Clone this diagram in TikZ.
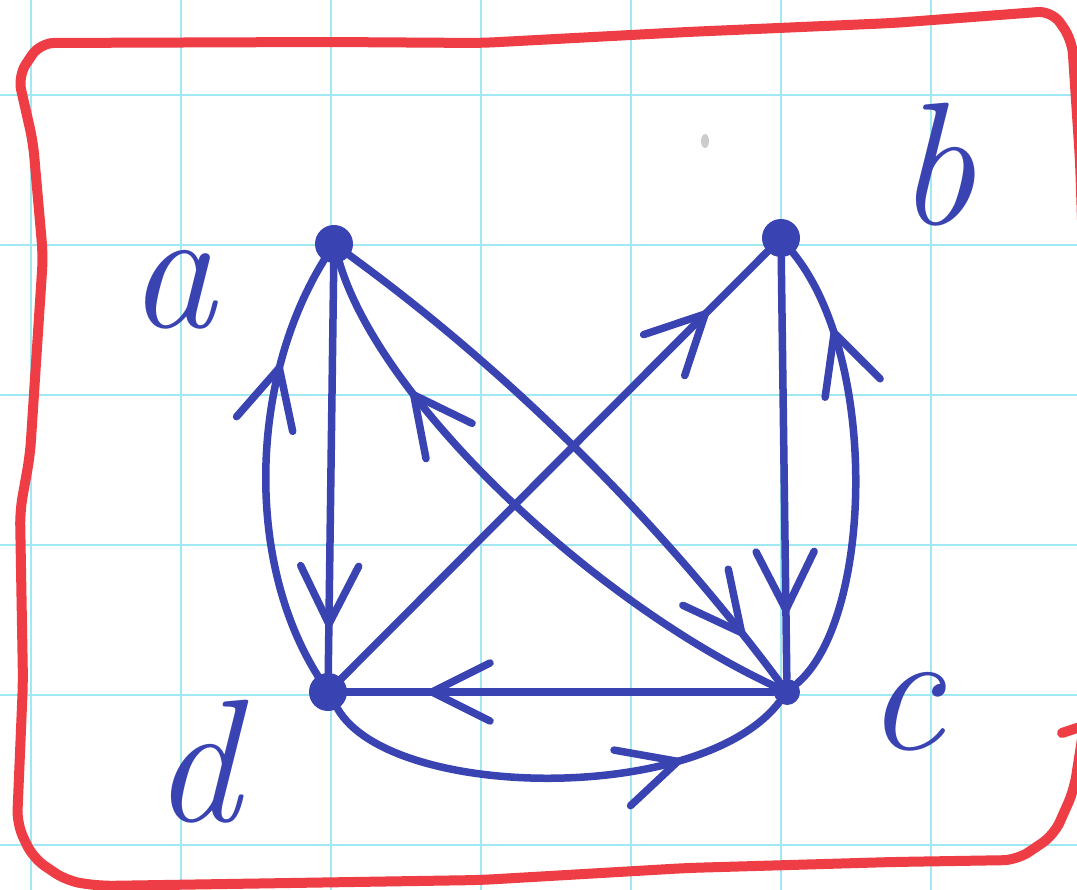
\documentclass[tikz,border=0pt]{standalone}
\usepackage{fontspec}
\usetikzlibrary{arrows.meta,decorations.markings}
\definecolor{ink}{HTML}{3A43B2}
\definecolor{redpen}{HTML}{EE3D44}
\definecolor{gridc}{HTML}{A0E8F2}
\begin{document}
\begin{tikzpicture}[x=1pt,y=-1pt,
  pen/.style={draw=ink, line width=7.5pt, line cap=round, line join=round},
  vtx/.style={circle, fill=ink, inner sep=0pt, minimum size=38pt},
  lbl/.style={text=ink, inner sep=0pt, font=\fontsize{175}{175}\selectfont\itshape},
  midarrow/.style={postaction={decorate}, decoration={markings, mark=at position #1 with {\arrow[ink, line width=7.5pt]{Straight Barb[length=58pt,width=58pt,round]}}}},
  gridline/.style={draw=gridc, line width=2.5pt},
  border/.style={draw=redpen, line width=10pt, line cap=round, line join=round}
]
\useasboundingbox (0,0) rectangle (1077,890);
\fill[white] (0,0) rectangle (1077,890);
% grid paper
\foreach \x in {31,181,331,481,631,781,931,1081} \draw[gridline] (\x,0) -- (\x,890);
\foreach \y in {95,245,395,545,695,845} \draw[gridline] (0,\y) -- (1077,\y);
% paper blemish
\fill[gray!40] (705,141) ellipse (4pt and 7pt);
% red frame
\draw[border, rounded corners=14pt] (43,256) -- (33,142) -- (18,76) -- (40,43) -- (330,42) -- (481,43) -- (687,32) -- (893,23) -- (1052,11) -- (1072,40) -- (1080,160) -- (1088,400) -- (1085,720) -- (1074,790) -- (1054,835) -- (1017,860) -- (893,862) -- (687,868) -- (481,880) -- (100,886) -- (67,881) -- (33,858) -- (17,824) -- (23,682) -- (20,511) -- (30,455) -- cycle;
\draw[border] (1062,733) -- (1080,727);
% vertices
\node[vtx] (a) at (334,244) {};
\node[vtx] (b) at (781,238) {};
\node[vtx, minimum size=26pt] (c) at (787,692) {};
\node[vtx] (d) at (328,692) {};
% labels
\node[lbl] (la) at (172,290) {a};
\node[lbl] (lb) at (936,165) {b};
\node[lbl] (lc) at (905,712) {c};
\node[lbl] (ld) at (196,762) {d};
% edges
\draw[pen, midarrow=0.89] (a) -- (d);
\draw[pen, midarrow=0.74] (d) .. controls (245,560) and (250,380) .. (a);
\draw[pen, midarrow=0.905] (a) .. controls (507,370) and (658,519) .. (c);
\draw[pen, midarrow=0.76] (c) .. controls (590,600) and (380,400) .. (a);
\draw[pen, midarrow=0.86] (d) -- (b);
\draw[pen, midarrow=0.845] (b) -- (c);
\draw[pen, midarrow=0.81] (c) .. controls (872,620) and (880,360) .. (b);
\draw[pen, midarrow=0.81] (c) -- (d);
\draw[pen, midarrow=0.76] (d) .. controls (390,800) and (700,805) .. (c);
\end{tikzpicture}
\end{document}
